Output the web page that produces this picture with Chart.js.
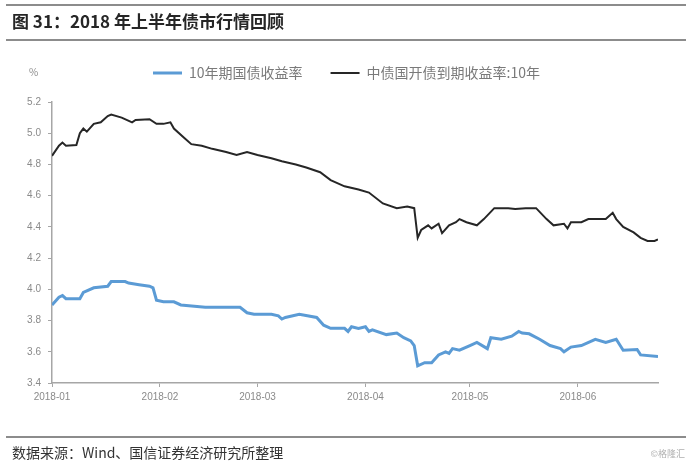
<!DOCTYPE html>
<html>
<head>
<meta charset="utf-8">
<script src="https://cdn.jsdelivr.net/npm/chart.js@4.4.1/dist/chart.umd.min.js"></script>
<style>
  html, body { margin: 0; padding: 0; background: #fff; }
  #wrap { position: relative; width: 691px; height: 466px; overflow: hidden; }
  #c { position: absolute; left: 0; top: 0; }
  .rule { position: absolute; left: 6px; width: 680px; height: 0; border-top: 2px solid #8c8c8c; }
  .txt { position: absolute; white-space: nowrap; font-family: "Noto Sans CJK SC", "Noto Sans", sans-serif; }
</style>
</head>
<body>
<div id="wrap">
  <canvas id="c" width="691" height="466"></canvas>
  <div class="rule" style="top:4px"></div>
  <div class="txt" style="left:12px; top:8px; font-size:17px; font-weight:bold; color:#262626;">图 31：2018 年上半年债市行情回顾</div>
  <div class="rule" style="top:39px"></div>
  <div class="txt" style="left:29px; top:64px; font-size:10px; color:#8a8a8a;">%</div>
  <div class="rule" style="top:436px"></div>
  <div class="txt" style="left:12px; top:442px; font-size:14px; color:#333;">数据来源：Wind、国信证券经济研究所整理</div>
  <div class="txt" style="right:6px; top:447px; font-size:9px; color:#b0b0b0;">©格隆汇</div>
</div>
<script>
// days counted from 2018-01-01
var monthStarts = [0, 31, 59, 90, 120, 151]
var monthLabels = ['2018-01', '2018-02', '2018-03', '2018-04', '2018-05', '2018-06']
var yTicks = [3.4, 3.6, 3.8, 4.0, 4.2, 4.4, 4.6, 4.8, 5.0, 5.2]

// 10年期国债收益率
var cgbDays = [0, 2, 3, 4, 8, 9, 12, 16, 17, 21, 22, 25, 28, 29, 30, 32, 35, 37, 44, 50,
    54, 56, 58, 63, 65, 66, 67, 71, 76, 78, 80, 84, 85, 86, 88, 90, 91, 92, 96, 99,
    101, 103, 104, 105, 107, 109, 111, 113, 114, 115, 117, 120, 122, 125, 126, 129, 132, 134, 135, 137,
    140, 143, 146, 147, 149, 152, 156, 159, 162, 164, 168, 169, 174]
var cgbYield = [3.90, 3.95, 3.96, 3.94, 3.94, 3.98, 4.01, 4.02, 4.05, 4.05, 4.04, 4.03, 4.02, 4.01, 3.93, 3.92, 3.92, 3.90, 3.885, 3.885,
    3.885, 3.85, 3.84, 3.84, 3.83, 3.81, 3.82, 3.84, 3.82, 3.77, 3.75, 3.75, 3.73, 3.76, 3.75, 3.76, 3.73, 3.74, 3.71, 3.72,
    3.69, 3.67, 3.64, 3.51, 3.53, 3.53, 3.58, 3.60, 3.59, 3.62, 3.61, 3.64, 3.66, 3.62, 3.69, 3.68, 3.70, 3.73, 3.72, 3.715,
    3.68, 3.64, 3.62, 3.60, 3.63, 3.64, 3.68, 3.66, 3.68, 3.61, 3.615, 3.58, 3.57]

// 中债国开债到期收益率:10年
var cdbDays = [0, 2, 3, 4, 7, 8, 9, 10, 12, 14, 16, 17, 20, 23, 24, 28, 30, 32, 34, 35,
    38, 40, 43, 46, 50, 53, 56, 59, 63, 66, 70, 73, 77, 80, 84, 88, 91, 95, 99, 102,
    104, 105, 106, 108, 109, 111, 112, 114, 116, 117, 119, 122, 124, 127, 131, 133, 136, 139, 142, 144,
    147, 148, 149, 152, 154, 157, 159, 161, 162, 164, 167, 169, 171, 173, 174]
var cdbYield = [4.855, 4.92, 4.94, 4.92, 4.925, 5.00, 5.03, 5.01, 5.06, 5.07, 5.11, 5.12, 5.10, 5.07, 5.085, 5.09, 5.06, 5.06, 5.07, 5.03,
    4.97, 4.93, 4.92, 4.90, 4.88, 4.86, 4.88, 4.86, 4.84, 4.82, 4.80, 4.78, 4.75, 4.70, 4.66, 4.64, 4.62, 4.55, 4.52, 4.53,
    4.52, 4.33, 4.38, 4.41, 4.39, 4.42, 4.36, 4.41, 4.43, 4.45, 4.43, 4.41, 4.45, 4.52, 4.52, 4.515, 4.52, 4.52, 4.45, 4.41,
    4.42, 4.39, 4.43, 4.43, 4.45, 4.45, 4.45, 4.49, 4.45, 4.40, 4.365, 4.33, 4.31, 4.31, 4.32]

function toPoints(days, vals){
    return days.map(function(d, i){ return {x: d, y: vals[i]} })
}

// leave some room between the legend and the plot, and nudge it right
var legendTweak = {
    id: 'legendTweak',
    beforeLayout: function(chart){
        var lg = chart.legend
        if (lg && !lg._gapPatched) {
            var fit = lg.fit
            lg.fit = function(){ fit.call(this); this.height += 12 }
            lg._gapPatched = true
        }
    },
    afterLayout: function(chart){
        if (chart.legend) chart.legend.left += 35
    }
}

var axisGrey = '#a6a6a6'
var tickFont = {family: '"Liberation Sans", sans-serif', size: 10}

var ctx = document.getElementById('c').getContext('2d')
var chart = new Chart(ctx, {
    type: 'line',
    data: {
        datasets: [{
            label: '10年期国债收益率',
            data: toPoints(cgbDays, cgbYield),
            borderColor: '#5b9bd5',
            backgroundColor: '#5b9bd5',
            borderWidth: 3,
            pointRadius: 0,
            tension: 0
        }, {
            label: '中债国开债到期收益率:10年',
            data: toPoints(cdbDays, cdbYield),
            borderColor: '#262626',
            backgroundColor: '#262626',
            borderWidth: 2,
            pointRadius: 0,
            tension: 0
        }]
    },
    options: {
        responsive: false,
        animation: false,
        layout: {padding: {left: 0, top: 38, right: 33, bottom: 58}},
        plugins: {
            tooltip: {enabled: false},
            legend: {
                position: 'top',
                labels: {
                    usePointStyle: true,
                    pointStyle: 'line',
                    pointStyleWidth: 29,
                    padding: 28,
                    color: '#7a7a7a',
                    font: {family: '"Noto Sans CJK SC", sans-serif', size: 14}
                }
            }
        },
        scales: {
            x: {
                type: 'linear',
                min: 0,
                max: 174,
                afterBuildTicks: function(scale){
                    scale.ticks = monthStarts.map(function(v){ return {value: v} })
                },
                afterFit: function(scale){ scale.height = 25 },
                grid: {drawOnChartArea: false, tickLength: 4, color: axisGrey},
                border: {color: axisGrey, width: 1.5},
                ticks: {
                    autoSkip: false,
                    maxRotation: 0,
                    padding: 4,
                    color: '#8a8a8a',
                    font: tickFont,
                    callback: function(v){ return monthLabels[monthStarts.indexOf(v)] }
                }
            },
            y: {
                min: 3.4,
                max: 5.2,
                afterBuildTicks: function(scale){
                    scale.ticks = yTicks.map(function(v){ return {value: v} })
                },
                afterFit: function(scale){ scale.width = 52 },
                grid: {drawOnChartArea: false, tickLength: 4, color: axisGrey},
                border: {color: axisGrey, width: 1.5},
                ticks: {
                    padding: 7,
                    color: '#8a8a8a',
                    font: tickFont,
                    callback: function(v){ return v.toFixed(1) }
                }
            }
        }
    },
    plugins: [legendTweak]
})
</script>
</body>
</html>
